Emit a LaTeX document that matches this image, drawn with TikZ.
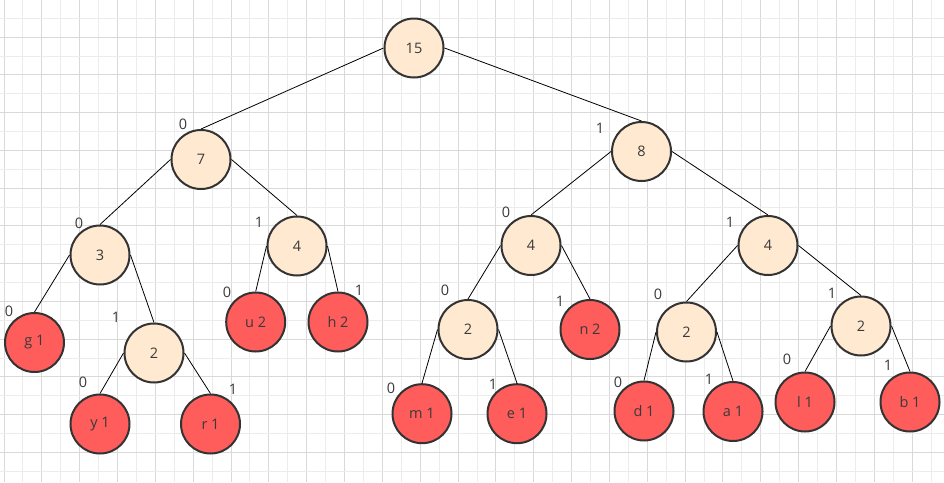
\documentclass[tikz,border=0pt]{standalone}
\usepackage{fontspec}
\setmainfont{Open Sans}
\definecolor{beige}{HTML}{FFEAD1}
\definecolor{nred}{HTML}{FF5C5C}
\definecolor{bord}{HTML}{333333}
\definecolor{txt}{HTML}{3A3A3A}
\definecolor{gmaj}{HTML}{D9D9D9}
\definecolor{gmin}{HTML}{ECECEC}
\begin{document}
\begin{tikzpicture}[x=1pt,y=-1pt,font=\fontsize{14.5}{16}\selectfont,
  inner/.style={circle,draw=bord,line width=2pt,fill=beige,minimum size=59pt,inner sep=0pt,text=txt},
  leaf/.style={inner,fill=nred},
  edge/.style={draw=black,line width=0.8pt},
  bit/.style={text=txt,inner sep=0pt}]
\useasboundingbox (0,0) rectangle (944,482);
\fill[white] (0,0) rectangle (944,482);
\begin{scope}
\clip (0,0) rectangle (944,482);
\foreach \k in {0,...,49}{
  \pgfmathsetmacro{\xx}{4+18.92*\k}
  \ifodd\k \def\gc{gmin}\else\def\gc{gmaj}\fi
  \draw[\gc,line width=1pt] (\xx,0) -- (\xx,482);
}
\foreach \k in {0,...,26}{
  \pgfmathsetmacro{\yy}{-0.5+18.87*\k}
  \ifodd\k \def\gc{gmin}\else\def\gc{gmaj}\fi
  \draw[\gc,line width=1pt] (0,\yy) -- (944,\yy);
}
\end{scope}

% nodes
\node[inner] (n15) at (414,48) {15};
\node[inner] (n7) at (201,159.5) {7};
\node[inner] (n8) at (641.5,151.5) {8};
\node[inner] (n3) at (100,255) {3};
\node[inner] (n4a) at (297,246) {4};
\node[inner] (n4b) at (531,245.5) {4};
\node[inner] (n4c) at (768,245.5) {4};
\node[leaf] (g) at (34.5,342.5) {g 1};
\node[inner] (n2a) at (154,353) {2};
\node[leaf] (y) at (100,424) {y 1};
\node[leaf] (r) at (210.5,424) {r 1};
\node[leaf] (u) at (255.7,322) {u 2};
\node[leaf] (h) at (338,322) {h 2};
\node[inner] (n2b) at (468,329.5) {2};
\node[leaf] (n) at (590,329.5) {n 2};
\node[leaf] (m) at (422,413.7) {m 1};
\node[leaf] (e) at (517,413.7) {e 1};
\node[inner] (n2c) at (686.5,332) {2};
\node[leaf] (d) at (644,411) {d 1};
\node[leaf] (a) at (733,411.5) {a 1};
\node[inner] (n2d) at (861,326) {2};
\node[leaf] (l) at (805,402) {l 1};
\node[leaf] (b) at (910,402) {b 1};

% edges
\draw[edge] (n15.west) -- (n7.north);
\draw[edge] (n15.east) -- (n8.north);
\draw[edge] (n7.west) -- (n3.north);
\draw[edge] (n7.east) -- (n4a.north);
\draw[edge] (n3.west) -- (g.north);
\draw[edge] (n3.east) -- (n2a.north);
\draw[edge] (n2a.west) -- (y.north);
\draw[edge] (n2a.east) -- (r.north);
\draw[edge] (n4a.west) -- (u.north);
\draw[edge] (n4a.east) -- (h.north);
\draw[edge] (n8.west) -- (n4b.north);
\draw[edge] (n8.east) -- (n4c.north);
\draw[edge] (n4b.west) -- (n2b.north);
\draw[edge] (n4b.east) -- (n.north);
\draw[edge] (n2b.west) -- (m.north);
\draw[edge] (n2b.east) -- (e.north);
\draw[edge] (n4c.west) -- (n2c.north);
\draw[edge] (n4c.east) -- (n2d.north);
\draw[edge] (n2c.west) -- (d.north);
\draw[edge] (n2c.east) -- (a.north);
\draw[edge] (n2d.west) -- (l.north);
\draw[edge] (n2d.east) -- (b.north);

% bit labels
\node[bit] (b7) at (183,124) {0};
\node[bit] (b8) at (600,128) {1};
\node[bit] (b3) at (79,223) {0};
\node[bit] (b4a) at (259,222) {1};
\node[bit] (bg) at (9,311) {0};
\node[bit] (b2a) at (116,317) {1};
\node[bit] (by) at (83,382) {0};
\node[bit] (br) at (233,389) {1};
\node[bit] (bu) at (227,292) {0};
\node[bit] (bh) at (359,290) {1};
\node[bit] (b4b) at (506,212) {0};
\node[bit] (b2b) at (445,290) {0};
\node[bit] (bn) at (560,301) {1};
\node[bit] (bm) at (391,388) {0};
\node[bit] (be) at (493,384) {1};
\node[bit] (b4c) at (730,222) {1};
\node[bit] (b2c) at (658,294) {0};
\node[bit] (bd) at (618,382) {0};
\node[bit] (ba) at (709,379) {1};
\node[bit] (b2d) at (832,293) {1};
\node[bit] (bl) at (787,359) {0};
\node[bit] (bb) at (888,365) {1};
\end{tikzpicture}
\end{document}
